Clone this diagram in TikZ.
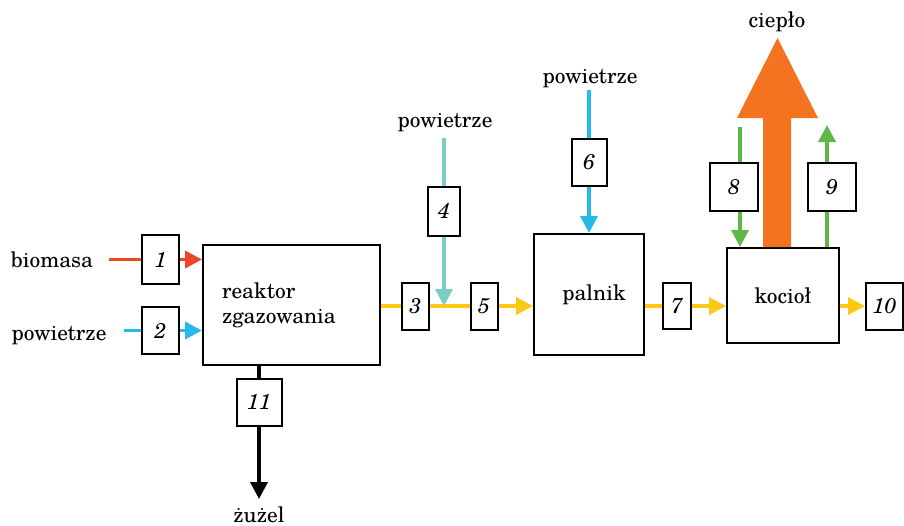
\documentclass[tikz,border=0pt]{standalone}
\usepackage{fontspec}
\setmainfont{TeX Gyre Schola}
\usetikzlibrary{arrows.meta}

\definecolor{fuelred}{RGB}{236,72,40}
\definecolor{airblue}{RGB}{41,184,234}
\definecolor{airteal}{RGB}{124,204,200}
\definecolor{gasyellow}{RGB}{255,200,20}
\definecolor{watergreen}{RGB}{94,184,72}
\definecolor{heatorange}{RGB}{243,115,33}

\begin{document}
\begin{tikzpicture}[x=1pt,y=-1pt,
  every node/.style={font=\fontsize{21.4}{25}\selectfont, inner sep=0pt},
  unit/.style={draw, line width=2pt},
  tag/.style={draw, line width=2pt, font=\fontsize{21.4}{25}\selectfont\itshape},
  flow/.style={line width=3.6pt},
  tipped/.style={-{Triangle[length=17pt,width=17pt]}},
]
\useasboundingbox (0,0) rectangle (904,525);

% process units
\node[unit, minimum width=177pt, minimum height=120pt, text width=139pt,
      inner xsep=19pt, align=left] (reactor) at (291.5,305) {reaktor\\zgazowania};
\node[unit, minimum width=110pt, minimum height=121pt, text width=100pt,
      align=center] (burner) at (589,294.5) {\hspace*{10pt}palnik};
\node[unit, minimum width=112pt, minimum height=95pt] (boiler) at (783,295.5) {kocioł};

% stream numbers
\node[tag, minimum width=37pt, minimum height=49pt] (b1) at (160.5,259.5) {1};
\node[tag, minimum width=37pt, minimum height=47pt] (b2) at (160.5,330.5) {2};
\node[tag, minimum width=27pt, minimum height=47pt] (b3) at (415.5,306) {3};
\node[tag, minimum width=32pt, minimum height=49pt] (b4) at (444,211) {4};
\node[tag, minimum width=27pt, minimum height=47pt] (b5) at (484,306) {5};
\node[tag, minimum width=35pt, minimum height=47pt] (b6) at (589,162.5) {6};
\node[tag, minimum width=28pt, minimum height=46pt] (b7) at (677,306) {7};
\node[tag, minimum width=48pt, minimum height=48pt] (b8) at (734,187) {8};
\node[tag, minimum width=48pt, minimum height=48pt] (b9) at (832,187) {9};
\node[tag, minimum width=37pt, minimum height=47pt] (b10) at (884.5,306) {10};
\node[tag, minimum width=45pt, minimum height=47pt] (b11) at (259,402) {11};

% labels
\node[anchor=base] (lbio) at (52,267) {biomasa};
\node[anchor=base] (lair1) at (59,340) {powietrze};
\node[anchor=base] (lair2) at (445,127) {powietrze};
\node[anchor=base] (lair3) at (590,83) {powietrze};
\node[anchor=base] (lheat) at (777,27) {ciepło};
\node[anchor=base] (lslag) at (259,522) {żużel};

% free ends
\coordinate (biosrc) at (109,259.5);
\coordinate (air1src) at (124,330.5);
\coordinate (air2src) at (444,138);
\coordinate (air3src) at (589,90);
\coordinate (g8) at (740,127);
\coordinate (g9) at (827,125);
\coordinate (slagend) at (259,499);

% biomass and air into the reactor
\draw[flow, fuelred] (biosrc) -- (b1.west);
\draw[flow, fuelred, tipped] (b1.east) -- (b1.east -| reactor.west);
\draw[flow, airblue] (air1src) -- (b2.west);
\draw[flow, airblue, tipped] (b2.east) -- (b2.east -| reactor.west);

% slag out of the reactor
\draw[flow] (b11.north |- reactor.south) -- (b11.north);
\draw[flow, tipped] (b11.south) -- (slagend);

% gas line to the burner
\draw[flow, gasyellow] (b3.west -| reactor.east) -- (b3.west);
\draw[flow, gasyellow] (b3.east) -- (b5.west);
\draw[flow, gasyellow, tipped] (b5.east) -- (b5.east -| burner.west);
\draw[flow, airteal] (air2src) -- (b4.north);
\draw[flow, airteal, tipped] (b4.south) -- (b4.south |- b3.east);

% combustion air
\draw[flow, airblue] (air3src) -- (b6.north);
\draw[flow, airblue, tipped] (b6.south) -- (burner.north);

% flue gas through the boiler
\draw[flow, gasyellow] (b7.west -| burner.east) -- (b7.west);
\draw[flow, gasyellow, tipped] (b7.east) -- (b7.east -| boiler.west);
\draw[flow, gasyellow, tipped] (b10.west -| boiler.east) -- (b10.west);

% water circuit
\draw[flow, watergreen] (g8) -- (g8 |- b8.north);
\draw[flow, watergreen, tipped] (g8 |- b8.south) -- (g8 |- boiler.north);
\draw[flow, watergreen] (g9 |- boiler.north) -- (g9 |- b9.south);
\draw[flow, watergreen, tipped] (g9 |- b9.north) -- (g9);

% heat output
\fill[heatorange] (763,247) -- (763,118) -- (737,118) -- (777.5,38)
  -- (818,118) -- (791,118) -- (791,247) -- cycle;
\end{tikzpicture}
\end{document}
